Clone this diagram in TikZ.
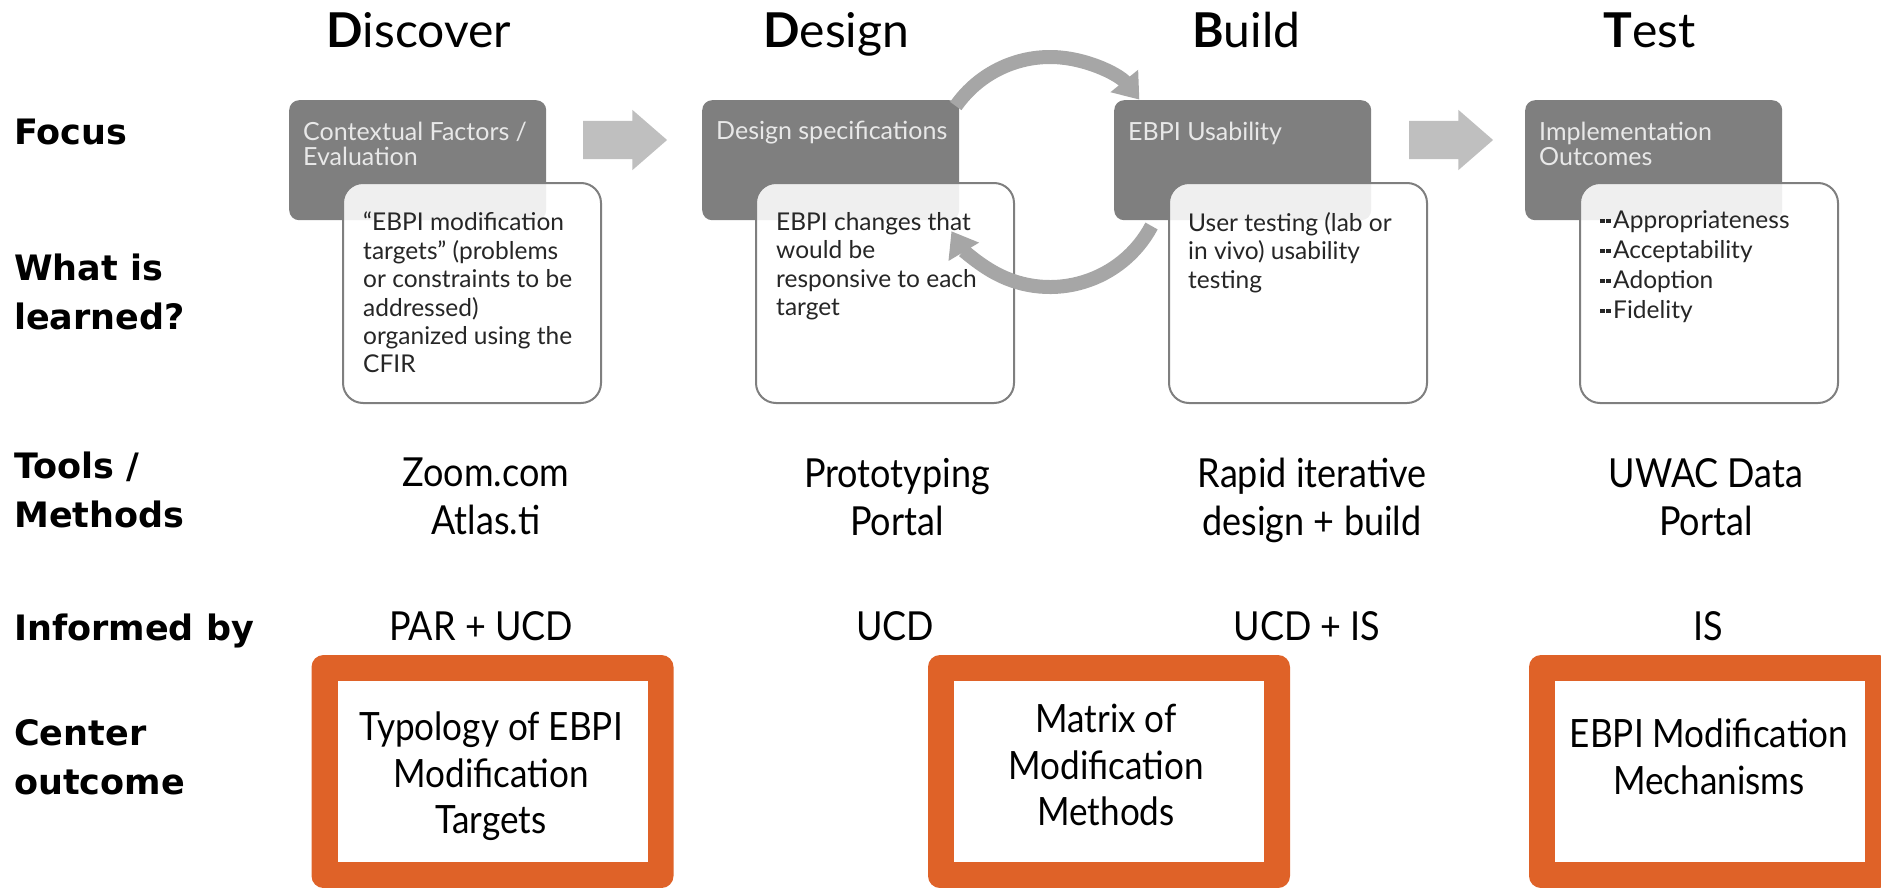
\documentclass[tikz,border=0pt]{standalone}
\usepackage{fontspec}
\setmainfont{Lato}
\newfontfamily\narrowfont[FakeStretch=0.9]{Lato}
\newfontfamily\heavyfont{DejaVu Sans}
\usetikzlibrary{arrows.meta,shapes.arrows}
\definecolor{focusgray}{RGB}{127,127,127}
\definecolor{focuswhite}{RGB}{232,232,232}
\definecolor{blockgray}{RGB}{191,191,191}
\definecolor{loopgray}{RGB}{166,166,166}
\definecolor{outorange}{RGB}{223,98,40}
\newcommand{\sqbul}{\rule[5pt]{4.5pt}{4.5pt}\hspace{1.5pt}\rule[5pt]{4.5pt}{4.5pt}\hspace{2.5pt}}

\begin{document}
\begin{tikzpicture}[x=1pt,y=-1pt,
  rowlabel/.style={anchor=north west,inner sep=0,align=left,font=\heavyfont\bfseries\fontsize{35}{49}\selectfont},
  stagehead/.style={anchor=base west,inner sep=0,font=\fontsize{48}{58}\selectfont},
  focusbox/.style={anchor=north west,fill=focusgray,rounded corners=10pt,minimum width=257pt,minimum height=120pt,inner sep=0},
  focuslabel/.style={anchor=north west,inner sep=0,align=left,text=focuswhite,font=\fontsize{25}{25}\selectfont},
  learnbox/.style={anchor=north west,draw=focusgray,line width=2pt,fill=white,fill opacity=0.88,rounded corners=20pt,minimum width=258pt,minimum height=220pt,inner sep=0},
  learnlabel/.style={anchor=north west,inner sep=0,align=left,text=black!85,font=\fontsize{24.5}{28.4}\selectfont},
  toollabel/.style={anchor=north,inner sep=0,align=center,font=\narrowfont\fontsize{40}{48}\selectfont},
  infolabel/.style={anchor=base,inner sep=0,font=\narrowfont\fontsize{40}{48}\selectfont},
  outframe/.style={fill=outorange,rounded corners=12pt,minimum width=362pt,minimum height=233pt,inner sep=0},
  outinner/.style={fill=white,minimum width=310pt,minimum height=181pt,inner sep=0},
  outlabel/.style={anchor=north,inner sep=0,align=center,font=\narrowfont\fontsize{39}{46.5}\selectfont},
  blockarrow/.style={single arrow,fill=blockgray,minimum height=84pt,single arrow head extend=11pt,single arrow tip angle=82,inner xsep=0,inner ysep=19pt},
  looparrow/.style={draw=loopgray,line width=14pt,-{Triangle[width=34pt,length=24pt]}}]
\useasboundingbox (0,0) rectangle (1881,888);

% stage headings
\node[stagehead] (hdis) at (326,48) {\textbf{D}iscover};
\node[stagehead] (hdes) at (763,48) {\textbf{D}esign};
\node[stagehead] (hbld) at (1192,48) {\textbf{B}uild};
\node[stagehead] (htst) at (1603,48) {\textbf{T}est};

% row labels
\node[rowlabel] (rfocus) at (14,119) {Focus};
\node[rowlabel] (rlearn) at (14,254) {What is\\learned?};
\node[rowlabel] (rtools) at (14,452) {Tools /\\Methods};
\node[rowlabel] (rinfo) at (14,614) {Informed by};
\node[rowlabel] (rout) at (14,719) {Center\\outcome};

% focus boxes
\node[focusbox] (fdis) at (289,100) {};
\node[focusbox] (fdes) at (702,100) {};
\node[focusbox] (fbld) at (1114,100) {};
\node[focusbox] (ftst) at (1525,100) {};
\node[focuslabel] (fdis-t) at ([shift={(14,22)}]fdis.north west) {Contextual Factors /\\Evaluation};
\node[focuslabel] (fdes-t) at ([shift={(14,21)}]fdes.north west) {Design specifications};
\node[focuslabel] (fbld-t) at ([shift={(14,22)}]fbld.north west) {EBPI Usability};
\node[focuslabel] (ftst-t) at ([shift={(14,22)}]ftst.north west) {Implementation\\Outcomes};

\node[blockarrow] (adis) at (614,140) {};
\node[blockarrow] (abld) at (1440,140) {};

% what is learned
\node[learnbox] (ldis) at (342,182) {};
\node[learnbox] (ldes) at (755,182) {};
\node[learnbox] (lbld) at (1168,182) {};
\node[learnbox] (ltst) at (1579,182) {};
\node[learnlabel] (ldis-t) at ([shift={(21,30)}]ldis.north west) {“EBPI modification\\targets” (problems\\or constraints to be\\addressed)\\organized using the\\CFIR};
\node[learnlabel] (ldes-t) at ([shift={(21,30)}]ldes.north west) {EBPI changes that\\would be\\responsive to each\\target};
\node[learnlabel] (lbld-t) at ([shift={(20,30)}]lbld.north west) {User testing (lab or\\in vivo) usability\\testing};
\node[learnlabel,font=\fontsize{24.5}{30}\selectfont] (ltst-t) at ([shift={(21,28)}]ltst.north west) {\sqbul Appropriateness\\\sqbul Acceptability\\\sqbul Adoption\\\sqbul Fidelity};

% tools / methods
\node[toollabel] (tdis) at (486,458) {Zoom.com\\Atlas.ti};
\node[toollabel] (tdes) at (897,458) {Prototyping\\Portal};
\node[toollabel] (tbld) at (1312,458) {Rapid iterative\\design + build};
\node[toollabel] (ttst) at (1706,458) {UWAC Data\\Portal};

% informed by
\node[infolabel] (idis) at (481,640) {PAR + UCD};
\node[infolabel] (ides) at (895,640) {UCD};
\node[infolabel] (ibld) at (1307,640) {UCD + IS};
\node[infolabel] (itst) at (1708,640) {IS};

% center outcomes
\node[outframe] (odis) at (492.5,771.5) {};
\node[outframe] (odes) at (1109,771.5) {};
\node[outframe] (otst) at (1710,771.5) {};
\node[outinner] (odis-b) at (odis) {};
\node[outinner] (odes-b) at (odes) {};
\node[outinner] (otst-b) at (otst) {};
\node[outlabel] (odis-t) at (491,712) {Typology of EBPI\\Modification\\Targets};
\node[outlabel] (odes-t) at (1106,704) {Matrix of\\Modification\\Methods};
\node[outlabel] (otst-t) at (1709,719) {EBPI Modification\\Mechanisms};

% design <-> build loop
\coordinate (loop) at (1050,172);
\draw[looparrow] (loop) ++(-145:115) arc[start angle=-145,end angle=-39,radius=115];
\draw[looparrow] (loop) ++(28:115) arc[start angle=28,end angle=149,radius=115];
\end{tikzpicture}
\end{document}
